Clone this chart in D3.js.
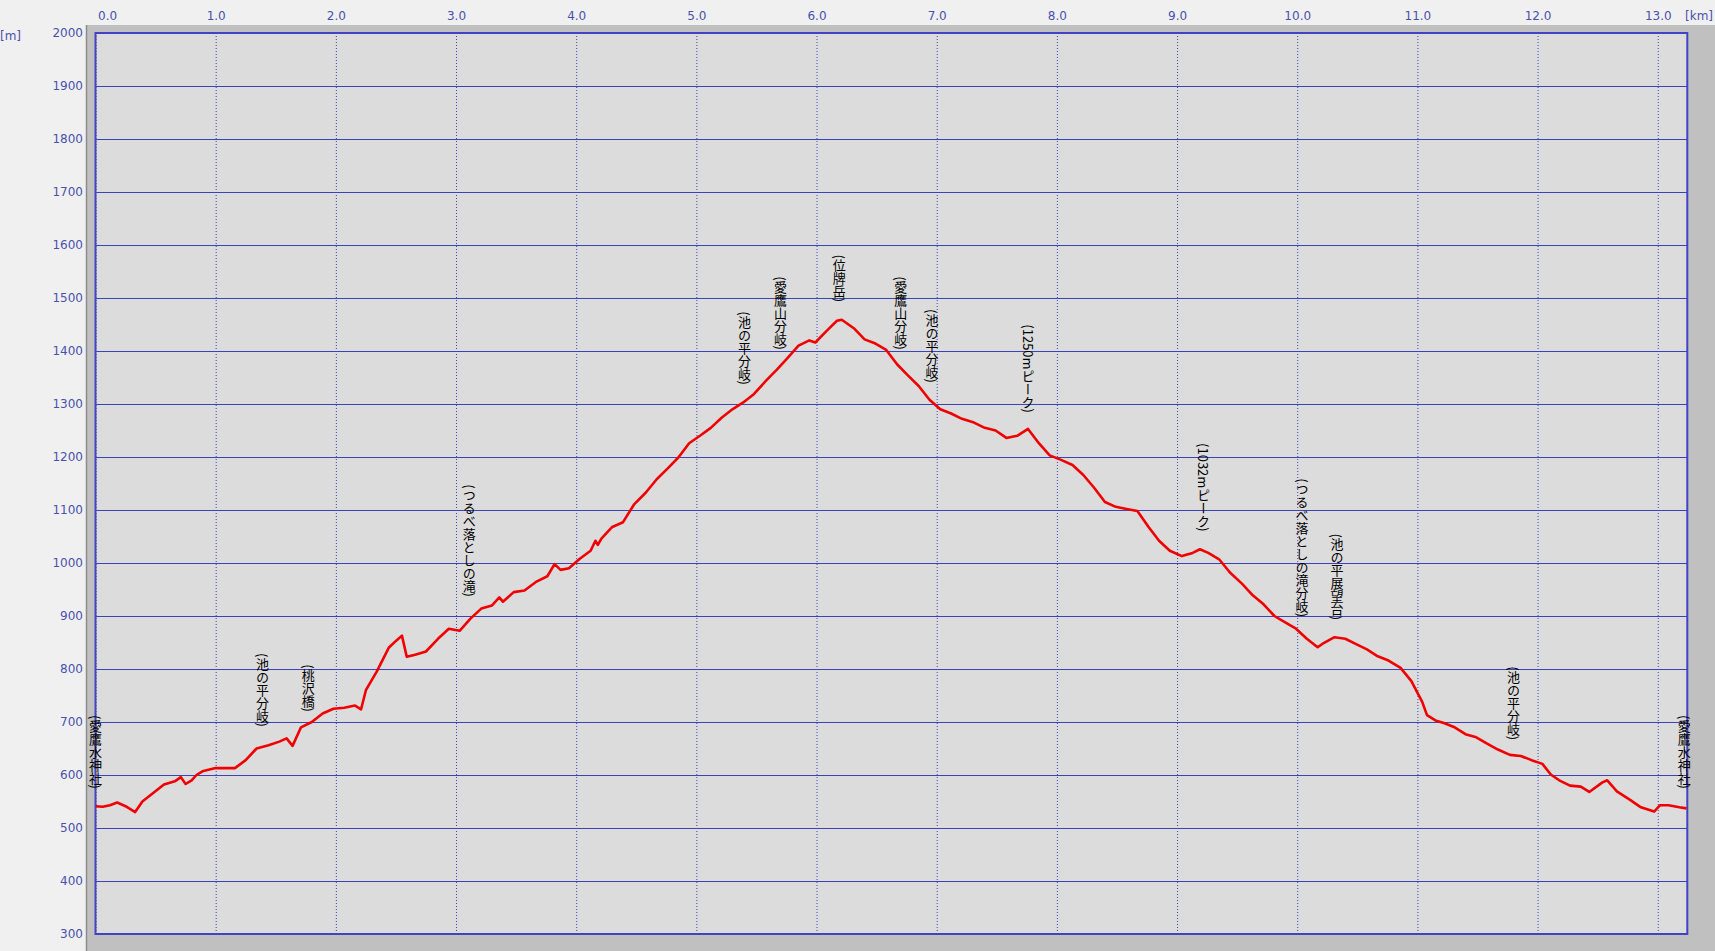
<!DOCTYPE html>
<html><head><meta charset="utf-8">
<script src="https://cdn.jsdelivr.net/npm/d3@7/dist/d3.min.js"></script>
<style>
html,body{margin:0;padding:0;background:#f0f0f0;}
svg{display:block;}
</style></head><body>
<script>
// ---- data ----
const distanceKm = [0.00,0.06,0.12,0.18,0.26,0.33,0.39,0.48,0.57,0.66,0.71,0.75,0.80,0.84,0.89,1.00,1.16,1.25,1.34,1.44,1.53,1.59,1.64,1.71,1.80,1.89,1.98,2.07,2.16,2.21,2.25,2.34,2.44,2.50,2.55,2.59,2.66,2.75,2.85,2.94,3.03,3.12,3.21,3.30,3.36,3.39,3.48,3.57,3.67,3.76,3.82,3.87,3.94,4.03,4.12,4.16,4.18,4.21,4.30,4.39,4.48,4.58,4.67,4.76,4.85,4.94,5.03,5.12,5.21,5.30,5.39,5.48,5.58,5.67,5.76,5.85,5.94,5.99,6.08,6.17,6.21,6.31,6.40,6.49,6.58,6.67,6.76,6.85,6.94,7.03,7.12,7.21,7.31,7.40,7.49,7.58,7.67,7.76,7.85,7.94,8.03,8.13,8.22,8.31,8.40,8.49,8.58,8.67,8.76,8.85,8.94,9.04,9.13,9.19,9.26,9.35,9.44,9.54,9.63,9.72,9.81,9.90,9.99,10.08,10.17,10.22,10.31,10.40,10.49,10.58,10.67,10.76,10.86,10.95,11.04,11.08,11.15,11.22,11.31,11.40,11.49,11.58,11.67,11.77,11.86,11.95,12.04,12.11,12.18,12.27,12.36,12.43,12.54,12.58,12.66,12.77,12.86,12.97,13.02,13.09,13.18,13.24];
const elevationM = [541,540,543,548,540,530,550,566,582,588,596,583,590,600,607,613,613,628,650,656,663,669,655,690,700,716,725,727,731,724,760,795,840,853,863,823,827,833,857,876,872,895,914,920,935,927,945,948,965,975,998,987,990,1008,1023,1042,1034,1046,1068,1077,1110,1133,1158,1178,1199,1226,1240,1255,1274,1290,1303,1319,1344,1365,1387,1410,1420,1416,1437,1457,1459,1443,1422,1414,1402,1375,1354,1334,1308,1290,1282,1272,1265,1255,1250,1236,1240,1253,1226,1203,1195,1185,1166,1142,1115,1106,1102,1098,1069,1042,1023,1013,1019,1026,1019,1007,982,961,939,922,900,888,876,857,841,849,860,857,847,837,824,816,802,777,738,713,703,698,690,677,671,659,648,638,636,628,621,601,590,580,578,568,586,590,569,553,539,531,543,543,539,537];
const kmTicks = [0,1,2,3,4,5,6,7,8,9,10,11,12,13];
const kmTickLabels = ["0.0","1.0","2.0","3.0","4.0","5.0","6.0","7.0","8.0","9.0","10.0","11.0","12.0","13.0"];
const mTicks = [300,400,500,600,700,800,900,1000,1100,1200,1300,1400,1500,1600,1700,1800,1900,2000];
const waypointNames = ["(愛鷹水神社)","(池の平分岐)","(桃沢橋)","(つるべ落としの滝)","(池の平分岐)","(愛鷹山分岐)","(位牌岳)","(愛鷹山分岐)","(池の平分岐)","(1250mピーク)","(1032mピーク)","(つるべ落としの滝分岐)","(池の平展望台)","(池の平分岐)","(愛鷹水神社)"];
const waypointKm = [0.0,1.39,1.77,3.11,5.40,5.70,6.19,6.70,6.96,7.76,9.22,10.04,10.33,11.80,13.22];
const waypointElev = [540,657,685,902,1302,1368,1458,1368,1306,1249,1025,864,858,632,540];

// ---- layout ----
const W = 1715, H = 951;
const pL = 95.5, pR = 1687.3, pT = 33, pB = 934;
const svg = d3.select("body").append("svg").attr("width", W).attr("height", H);

svg.append("rect").attr("width", W).attr("height", H).attr("fill", "#f0f0f0");
// frame
svg.append("rect").attr("x", 86).attr("y", 25).attr("width", W - 86).attr("height", H - 25).attr("fill", "#c0c0c0");
svg.append("line").attr("x1", 86.5).attr("x2", 86.5).attr("y1", 25).attr("y2", H).attr("stroke", "#8c8c8c").attr("stroke-width", 1.5);

const x = d3.scaleLinear().domain([0, 13.246]).range([pL, pR]);
const y = d3.scaleLinear().domain([300, 2000]).range([pB, pT]);

svg.append("rect").attr("x", pL).attr("y", pT).attr("width", pR - pL).attr("height", pB - pT)
  .attr("fill", "#dcdcdc");

const gridColor = "#3a44b8";
const grid = svg.append("g");
grid.append("g").attr("transform", `translate(0,${pB})`)
  .call(d3.axisBottom(x).tickValues(kmTicks).tickSize(-(pB - pT)).tickFormat(""))
  .call(g => g.select(".domain").remove())
  .call(g => g.selectAll("line").attr("stroke", gridColor).attr("stroke-width", 1).attr("stroke-dasharray", "1,2"));
grid.append("g").attr("transform", `translate(${pL},0)`)
  .call(d3.axisLeft(y).tickValues(mTicks).tickSize(-(pR - pL)).tickFormat(""))
  .call(g => g.select(".domain").remove())
  .call(g => g.selectAll("line").attr("stroke", gridColor).attr("stroke-width", 1));

// border
svg.append("rect").attr("x", pL).attr("y", pT).attr("width", pR - pL).attr("height", pB - pT)
  .attr("fill", "none").attr("stroke", "#4242c4").attr("stroke-width", 2);

// labels
const labelColor = "#4a50ae";
const labelFont = "'DejaVu Sans', Verdana, sans-serif";
const xLab = svg.append("g").attr("transform", "translate(0,20)")
  .call(d3.axisTop(x).tickValues(kmTicks).tickSize(0).tickFormat((d, i) => kmTickLabels[i]));
xLab.select(".domain").remove();
xLab.selectAll("text").attr("fill", labelColor).attr("font-family", labelFont).attr("font-size", 12)
  .attr("dy", 0).attr("y", 0)
  .attr("text-anchor", (d, i) => i === 0 ? "start" : "middle")
  .attr("dx", (d, i) => i === 0 ? 2 : 0);
svg.append("text").attr("x", 1685).attr("y", 20).text("[km]")
  .attr("fill", labelColor).attr("font-family", labelFont).attr("font-size", 12);

const yLab = svg.append("g").attr("transform", "translate(83,0)")
  .call(d3.axisLeft(y).tickValues(mTicks).tickSize(0).tickPadding(0).tickFormat(d3.format("d")));
yLab.select(".domain").remove();
yLab.selectAll("text").attr("fill", labelColor).attr("font-family", labelFont).attr("font-size", 12);
svg.append("text").attr("x", 0).attr("y", 40).text("[m]")
  .attr("fill", labelColor).attr("font-family", labelFont).attr("font-size", 12);

// profile
const pts = distanceKm.map((d, i) => [d, elevationM[i]]);
svg.append("clipPath").attr("id", "clip").append("rect")
  .attr("x", pL).attr("y", pT).attr("width", pR - pL).attr("height", pB - pT);
svg.append("path").datum(pts).attr("clip-path", "url(#clip)")
  .attr("d", d3.line().x(d => x(d[0])).y(d => y(d[1])))
  .attr("fill", "none").attr("stroke", "#f00000").attr("stroke-width", 2.6).attr("stroke-linejoin", "round");

// waypoints
svg.append("g").selectAll("text").data(waypointNames).join("text")
  .attr("x", (d, i) => x(waypointKm[i]))
  .attr("y", (d, i) => y(waypointElev[i]) - 18)
  .attr("text-anchor", "end")
  .style("writing-mode", "vertical-rl")
  .attr("font-family", "'Noto Sans CJK JP', sans-serif")
  .attr("font-size", 13)
  .attr("fill", "#000")
  .text(d => d);
</script>
</body></html>
